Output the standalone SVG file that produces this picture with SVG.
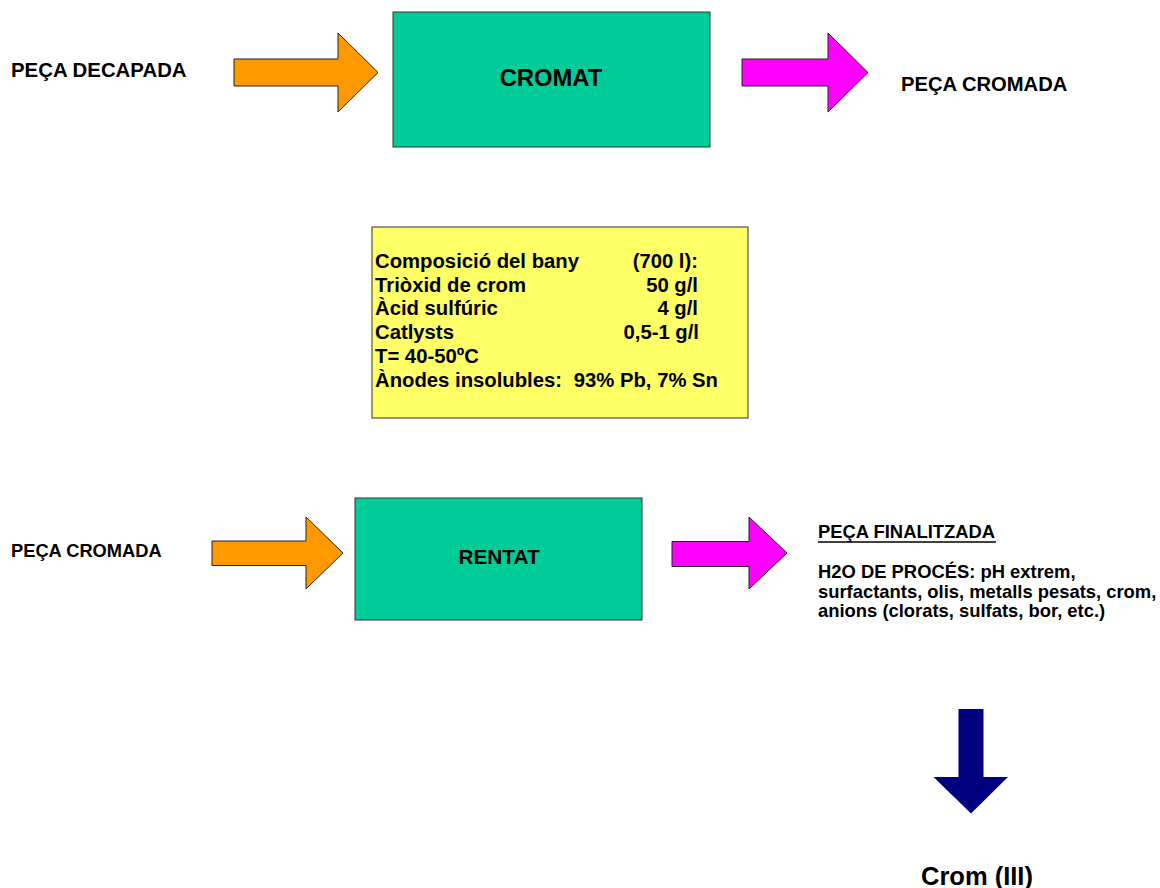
<svg xmlns="http://www.w3.org/2000/svg" width="1160" height="888" viewBox="0 0 1160 888">
<style>
text { font-family: "Liberation Sans", Arial, sans-serif; font-weight: bold; fill: #000; }
.box { fill: #00CC99; stroke: #333; stroke-width: 1; }
.note { fill: #FFFF66; stroke: #333; stroke-width: 1; }
.orange { fill: #FF9900; stroke: #222; stroke-width: 1; }
.magenta { fill: #FF00FF; stroke: #222; stroke-width: 1; }
.navy { fill: #000080; stroke: none; }
</style>
<rect width="1160" height="888" fill="#fff"/>
<g id="label-peca-decapada"><text x="11" y="77" font-size="20.4">PEÇA DECAPADA</text></g>
<g id="node-cromat">
<rect class="box" x="393" y="12" width="317" height="135"/>
<text x="551" y="86" font-size="23.8" text-anchor="middle">CROMAT</text>
</g>
<g id="label-peca-cromada-top"><text x="901" y="91" font-size="20.2">PEÇA CROMADA</text></g>
<g id="node-composicio">
<rect class="note" x="372" y="227" width="376" height="191"/>
<g font-size="20.3">
<text x="375" y="268">Composició del bany</text>
<text x="698" y="268" text-anchor="end">(700 l):</text>
<text x="375" y="292">Triòxid de crom</text>
<text x="698" y="292" text-anchor="end">50 g/l</text>
<text x="375" y="315">Àcid sulfúric</text>
<text x="698" y="315" text-anchor="end">4 g/l</text>
<text x="375" y="339">Catlysts</text>
<text x="699" y="339" text-anchor="end">0,5-1 g/l</text>
<text x="375" y="363">T= 40-50ºC</text>
<text x="375" y="387">Ànodes insolubles:</text>
<text x="718" y="387" text-anchor="end">93% Pb, 7% Sn</text>
</g>
</g>
<g id="label-peca-cromada-bottom"><text x="11" y="557" font-size="18.3">PEÇA CROMADA</text></g>
<g id="node-rentat">
<rect class="box" x="355" y="498" width="287" height="122"/>
<text x="499" y="564" font-size="20.8" text-anchor="middle">RENTAT</text>
</g>
<g id="label-output">
<text x="818" y="538" font-size="18.4">PEÇA FINALITZADA</text>
<line x1="818" y1="542" x2="996" y2="542" stroke="#000" stroke-width="1.5"/>
<g font-size="18.4">
<text x="818" y="578">H2O DE PROCÉS: pH extrem,</text>
<text x="818" y="598">surfactants, olis, metalls pesats, crom,</text>
<text x="818" y="617">anions (clorats, sulfats, bor, etc.)</text>
</g>
</g>
<g id="label-crom-iii"><text x="977" y="885" font-size="25.5" text-anchor="middle">Crom (III)</text></g>
<g id="connectors">
<polygon class="orange" points="234,59 338,59 338,33 378,72.5 338,112 338,86 234,86"/>
<polygon class="magenta" points="742,59 828,59 828,33 868,72.5 828,112 828,86 742,86"/>
<polygon class="orange" points="212,541 306,541 306,517 343,553 306,589 306,565.5 212,565.5"/>
<polygon class="magenta" points="672,541.5 749,541.5 749,517 787,553 749,589 749,566.5 672,566.5"/>
<polygon class="navy" points="958.5,709 983.5,709 983.5,777 1008,777 971,813.5 933.5,777 958.5,777"/>
</g>
</svg>
